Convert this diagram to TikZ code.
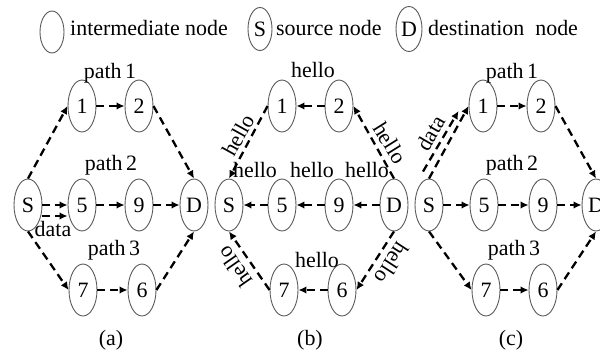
\documentclass[tikz,border=0pt]{standalone}
\usepackage{fontspec}
\setmainfont{Liberation Serif}
\usetikzlibrary{shapes.geometric,arrows.meta}
\newcommand\mysz{\fontsize{22}{26}\selectfont}
\begin{document}
\begin{tikzpicture}[x=1bp,y=1bp,
  nd/.style={ellipse, draw=black!65, line width=0.9bp, minimum width=28bp, minimum height=52bp, inner sep=0pt, font=\mysz},
  lgd/.style={ellipse, draw=black!65, line width=0.9bp, minimum width=24bp, minimum height=42bp, inner sep=0pt, font=\mysz},
  arr/.style={dash pattern=on 8bp off 5bp, line width=2.3bp, -{Latex[length=8bp,width=7.5bp]}},
  lab/.style={inner sep=0pt, font=\mysz}]
\useasboundingbox (0,0) rectangle (600,356);
% legend
\node[lgd] (L1) at (52,324) {};
\node[lab, anchor=base west] (L1t) at (70,320.5) {intermediate node};
\node[lgd, minimum height=43bp] (L2) at (260,327) {S};
\node[lab, anchor=base west] (L2t) at (276,320.5) {source node};
\node[lgd, minimum width=26bp, minimum height=45bp] (L3) at (409,327) {D};
\node[lab, anchor=base west] (L3t) at (428,320.5) {destination\ \ node};
% panel (a)
\node[nd] (aS) at (28,151) {S};
\node[nd] (a1) at (82,250) {1};
\node[nd] (a2) at (139,250) {2};
\node[nd] (a5) at (82,151) {5};
\node[nd] (a9) at (139,151) {9};
\node[nd] (aD) at (194,151) {D};
\node[nd] (a7) at (83,66) {7};
\node[nd] (a6) at (142,66) {6};
\node[lab] (ap1) at (110,283) {path\,1};
\node[lab] (ap2) at (111,191) {path\,2};
\node[lab] (ap3) at (114,106) {path\,3};
\node[lab] (adata) at (53,127) {data};
\node[lab] (acap) at (111,16) {(a)};
\draw[arr] (aS.north) -- (a1.west);
\draw[arr] (a1) -- (a2);
\draw[arr] (a2.east) -- (aD.north);
\draw[arr] (aS) -- (a5);
\draw[arr] ([yshift=-11bp]aS.east) -- ([yshift=-11bp]a5.west);
\draw[arr] (a5) -- (a9);
\draw[arr] (a9) -- (aD);
\draw[arr] (aS.south) -- (a7.west);
\draw[arr] (a7) -- (a6);
\draw[arr] (a6.east) -- (aD.south);
% panel (b)
\node[nd] (bS) at (229,151) {S};
\node[nd] (b1) at (282,250) {1};
\node[nd] (b2) at (339,250) {2};
\node[nd] (b5) at (282,151) {5};
\node[nd] (b9) at (339,151) {9};
\node[nd] (bD) at (394,151) {D};
\node[nd] (b7) at (284,66) {7};
\node[nd] (b6) at (342,66) {6};
\node[lab] (bh1) at (313,286) {hello};
\node[lab, rotate=61] (bh2) at (238,221) {hello};
\node[lab, rotate=-58] (bh3) at (390,213) {hello};
\node[lab] (bh4) at (255,186) {hello};
\node[lab] (bh5) at (312,186) {hello};
\node[lab] (bh6) at (367,186) {hello};
\node[lab] (bh7) at (317,96) {hello};
\node[lab, rotate=125] (bh8) at (235,89) {hello};
\node[lab, rotate=-123] (bh9) at (392,93) {hello};
\node[lab] (bcap) at (310,16) {(b)};
\draw[arr] (b2) -- (b1);
\draw[arr] (bD) -- (b9);
\draw[arr] (b9) -- (b5);
\draw[arr] (b5) -- (bS);
\draw[arr] (b6) -- (b7);
\draw[arr] (bD.north) -- (b2.east);
\draw[arr] (b1.west) -- (bS.north);
\draw[arr] (b7.west) -- (bS.south);
\draw[arr] (bD.south) -- (b6.east);
% panel (c)
\node[nd] (cS) at (429,151) {S};
\node[nd] (c1) at (483,250) {1};
\node[nd] (c2) at (541,250) {2};
\node[nd] (c5) at (484,151) {5};
\node[nd] (c9) at (543,151) {9};
\node[nd] (cD) at (596,151) {D};
\node[nd] (c7) at (486,66) {7};
\node[nd] (c6) at (543,66) {6};
\node[lab] (cp1) at (512,283) {path\,1};
\node[lab] (cp2) at (512,191) {path\,2};
\node[lab] (cp3) at (514,106) {path\,3};
\node[lab, rotate=60] (cdata) at (431,223) {data};
\node[lab] (ccap) at (511,16) {(c)};
\draw[arr] (cS.north) -- (c1.west);
\draw[arr] ([shift={(-6,7)}]cS.north) -- ([shift={(-10,-5)}]c1.west);
\draw[arr] (c1) -- (c2);
\draw[arr] (c2.east) -- (cD.north);
\draw[arr] (cS) -- (c5);
\draw[arr] (c5) -- (c9);
\draw[arr] (c9) -- (cD);
\draw[arr] (cS.south) -- (c7.west);
\draw[arr] (c7) -- (c6);
\draw[arr] (c6.east) -- (cD.south);
\end{tikzpicture}
\end{document}
